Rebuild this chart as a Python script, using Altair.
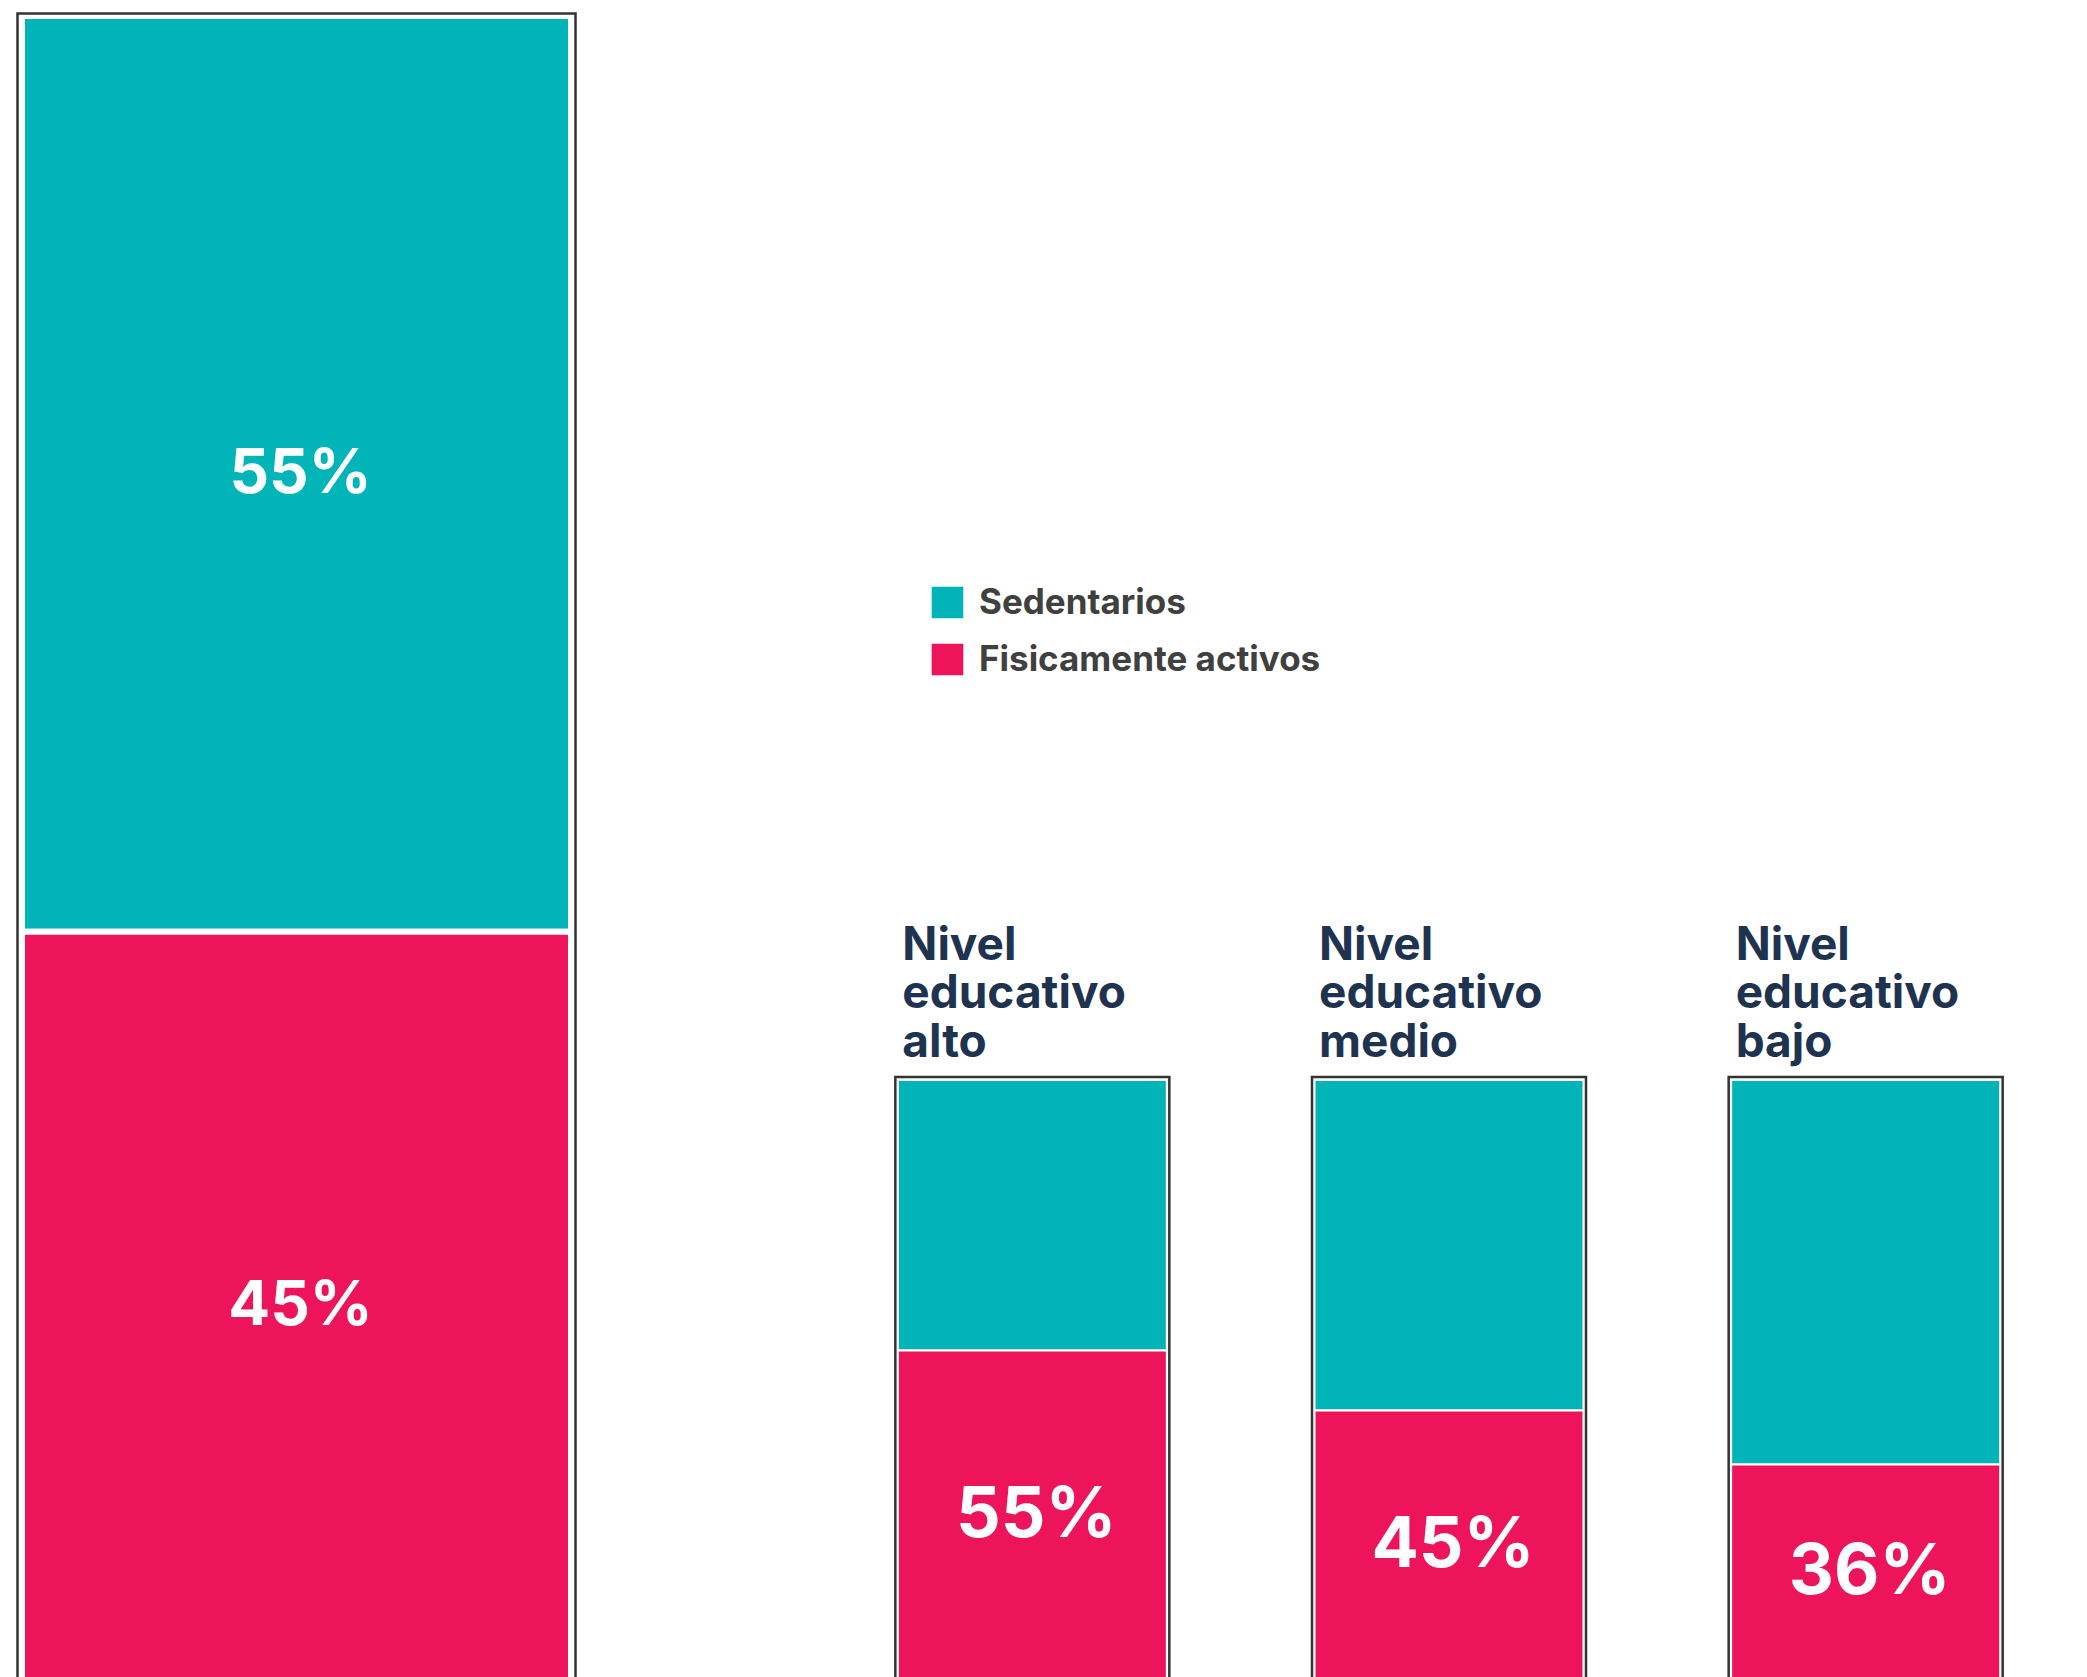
import altair as alt
import pandas as pd

# ---- data ----
categorias = ["Total", "Nivel educativo alto", "Nivel educativo medio", "Nivel educativo bajo"]
grupos = ["Sedentarios", "Fisicamente activos"]
sedentarios = [55, 45, 55, 64]
activos = [45, 55, 45, 36]

TEAL = "#00B4B8"
PINK = "#EE145B"
NAVY = "#1E3350"
FRAME = "#333333"
FONT = "Inter"

rows = []
for i, c in enumerate(categorias):
    rows.append({"categoria": c, "grupo": grupos[0], "valor": sedentarios[i], "orden": 1})
    rows.append({"categoria": c, "grupo": grupos[1], "valor": activos[i], "orden": 0})
df = pd.DataFrame(rows)
df["etiqueta"] = df["valor"].astype(str) + "%"

tot = pd.DataFrame({"categoria": categorias,
                    "total": [s + a for s, a in zip(sedentarios, activos)]})

H = 1665

color = alt.Color(
    "grupo:N",
    scale=alt.Scale(domain=grupos, range=[TEAL, PINK]),
    legend=alt.Legend(
        title=None, orient="none", legendX=922, legendY=569,
        symbolType="square", symbolSize=1000, symbolStrokeWidth=0,
        labelFontSize=35, labelFont=FONT, labelFontWeight="bold",
        labelColor="#404040", labelOffset=14, rowPadding=21, padding=0,
        labelLimit=0,
    ),
)


def stacked(data):
    return (
        alt.Chart(data)
        .transform_stack(stack="valor", groupby=["categoria"], as_=["y0", "y1"],
                         sort=[alt.SortField("orden", order="ascending")])
        .transform_calculate(ymid="(datum.y0 + datum.y1) / 2")
    )


# ---- left: total bar ----
left_df = df[df["categoria"] == "Total"]
left_tot = tot[tot["categoria"] == "Total"]
xl = alt.X("categoria:N", axis=None, scale=alt.Scale(paddingInner=0, paddingOuter=0))
yl = alt.Scale(domain=[0, 100], nice=False, zero=True)

bars_l = stacked(left_df).mark_bar(size=549, stroke="white", strokeWidth=6).encode(
    x=xl, y=alt.Y("y1:Q", scale=yl, axis=None), y2="y0:Q", color=color)
frame_l = alt.Chart(left_tot).mark_bar(
    filled=False, stroke=FRAME, strokeWidth=2.5, size=558, yOffset=-2.5).encode(
    x=xl, y=alt.Y("total:Q", scale=yl, axis=None), y2=alt.datum(0))
text_l = stacked(left_df).mark_text(
    font=FONT, fontWeight="bold", fontSize=62, color="white", baseline="middle",
    dx=4).encode(
    x=xl, y=alt.Y("ymid:Q", scale=yl, axis=None), text="etiqueta:N")

left = alt.layer(bars_l, frame_l, text_l).properties(width=577, height=H)

# ---- right: three education levels ----
right_df = df[df["categoria"] != "Total"]
right_tot = tot[tot["categoria"] != "Total"]
xr = alt.X("categoria:N", axis=None, sort=categorias[1:],
           scale=alt.Scale(paddingInner=0, paddingOuter=0))
yr = alt.Scale(domain=[0, 277], nice=False, zero=True)

bars_r = stacked(right_df).mark_bar(size=269, stroke="white", strokeWidth=2).encode(
    x=xr, y=alt.Y("y1:Q", scale=yr, axis=None), y2="y0:Q", color=color)
frame_r = alt.Chart(right_tot).mark_bar(
    filled=False, stroke=FRAME, strokeWidth=2.5, size=274, yOffset=-3).encode(
    x=xr, y=alt.Y("total:Q", scale=yr, axis=None), y2=alt.datum(0))
text_r = stacked(right_df).transform_filter(
    alt.datum.grupo == grupos[1]).mark_text(
    font=FONT, fontWeight="bold", fontSize=70, color="white", baseline="middle",
    dx=4).encode(
    x=xr, y=alt.Y("ymid:Q", scale=yr, axis=None), text="etiqueta:N")
cat_r = alt.Chart(right_tot).mark_text(
    font=FONT, fontWeight="bold", fontSize=46, color=NAVY, align="left",
    baseline="alphabetic", lineBreak=" ", lineHeight=48.5, dx=-130, dy=-120).encode(
    x=xr, y=alt.Y("total:Q", scale=yr, axis=None), text="categoria:N")

right = alt.layer(bars_r, frame_r, text_r, cat_r).properties(width=1250, height=H)

chart = (
    alt.hconcat(left, right, spacing=239, bounds="flush")
    .properties(padding={"left": 0, "top": 4, "right": 0, "bottom": 0})
    .configure_view(stroke=None)
)

chart.save("out.html", embed_options={"renderer": "svg", "actions": False})
